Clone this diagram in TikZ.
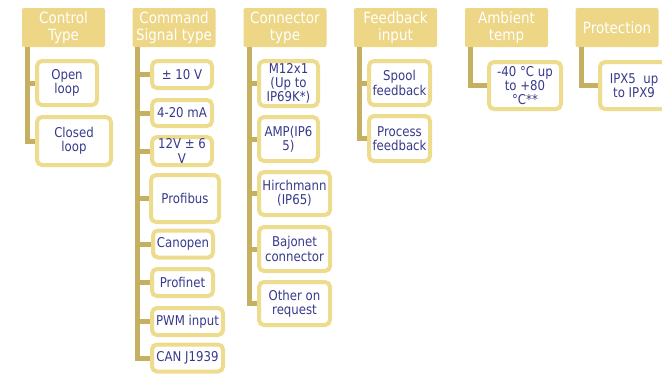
\documentclass[tikz,border=0pt]{standalone}
\usepackage{fontspec}
\setmainfont{DejaVu Sans}[FakeStretch=0.87]
\definecolor{hdrfill}{RGB}{237,214,134}
\definecolor{boxline}{RGB}{238,220,142}
\definecolor{barcol}{RGB}{197,176,98}
\definecolor{txtcol}{RGB}{55,58,140}
\tikzset{
  head/.style={fill=hdrfill, rounded corners=2pt, minimum width=83pt, minimum height=39pt,
    inner sep=1pt, align=center, text=white, font=\fontsize{15.5}{17}\selectfont},
  item/.style={draw=boxline, line width=4pt, fill=white, rounded corners=5pt,
    inner sep=1pt, align=center, text=txtcol, font=\fontsize{13.5}{14.3}\selectfont},
  bar/.style={draw=barcol, line width=5pt}
}
\begin{document}
\begin{tikzpicture}[x=1pt,y=-1pt]
  \useasboundingbox (0,0) rectangle (662,373);
  % headers
  \node[head] (h1) at (63.5,27.5) {Control\\Type};
  \node[head] (h2) at (174,27.5) {Command\\Signal type};
  \node[head] (h3) at (285,27.5) {Connector\\type};
  \node[head] (h4) at (395.5,27.5) {Feedback\\input};
  \node[head] (h5) at (506.5,27.5) {Ambient\\temp};
  \node[head] (h6) at (617,27.5) {Protection};
  % control type
  \node[item, minimum width=60pt, minimum height=44pt] (c1) at (67,83) {Open\\loop};
  \node[item, minimum width=74pt, minimum height=48pt] (c2) at (74,141) {Closed\\loop};
  % command signal
  \node[item, minimum width=60pt, minimum height=27pt] (s1) at (182,74.5) {± 10 V};
  \node[item, minimum width=60pt, minimum height=26pt] (s2) at (182,113) {4-20 mA};
  \node[item, minimum width=60pt, minimum height=28pt] (s3) at (182,151) {12V ± 6\\V};
  \node[item, minimum width=68pt, minimum height=47pt] (s4) at (185,198.5) {Profibus};
  \node[item, minimum width=60pt, minimum height=27pt] (s5) at (183,244) {Canopen};
  \node[item, minimum width=61pt, minimum height=27pt] (s6) at (182.5,282.5) {Profinet};
  \node[item, minimum width=71pt, minimum height=27pt] (s7) at (187.5,321.5) {PWM input};
  \node[item, minimum width=71pt, minimum height=27pt] (s8) at (187.5,358) {CAN J1939};
  % connector type
  \node[item, minimum width=59pt, minimum height=45pt] (p1) at (288.5,83.5) {M12x1\\(Up to\\IP69K*)};
  \node[item, minimum width=59pt, minimum height=44pt] (p2) at (288.5,139) {AMP(IP6\\5)};
  \node[item, minimum width=71pt, minimum height=43pt] (p3) at (294.5,193.5) {Hirchmann\\(IP65)};
  \node[item, minimum width=71pt, minimum height=44pt] (p4) at (294.5,249) {Bajonet\\connector};
  \node[item, minimum width=71pt, minimum height=43pt] (p5) at (294.5,303.5) {Other on\\request};
  % feedback
  \node[item, minimum width=61pt, minimum height=44pt] (f1) at (399.5,83) {Spool\\feedback};
  \node[item, minimum width=61pt, minimum height=45pt] (f2) at (399.5,138.5) {Process\\feedback};
  % ambient, protection
  \node[item, minimum width=72pt, minimum height=47pt] (a1) at (525,85.5) {-40 °C up\\to +80\\°C**};
  \node[item, minimum width=68pt, minimum height=47pt] (r1) at (634,85.5) {IPX5\ \ up\\to IPX9};
  % bars
  \draw[bar] ([xshift=6pt]h1.south west) |- (c2.west);
  \draw[bar] ([xshift=6pt]h1.south west |- c1.west) -- (c1.west);
  \draw[bar] ([xshift=5pt]h2.south west) |- (s8.west);
  \foreach \n in {s1,s2,s3,s4,s5,s6,s7}
    \draw[bar] ([xshift=5pt]h2.south west |- \n.west) -- (\n.west);
  \draw[bar] ([xshift=6pt]h3.south west) |- (p5.west);
  \foreach \n in {p1,p2,p3,p4}
    \draw[bar] ([xshift=6pt]h3.south west |- \n.west) -- (\n.west);
  \draw[bar] ([xshift=6pt]h4.south west) |- (f2.west);
  \draw[bar] ([xshift=6pt]h4.south west |- f1.west) -- (f1.west);
  \draw[bar] ([xshift=6pt]h5.south west) |- (a1.west);
  \draw[bar] ([xshift=6pt]h6.south west) |- (r1.west);
\end{tikzpicture}
\end{document}
